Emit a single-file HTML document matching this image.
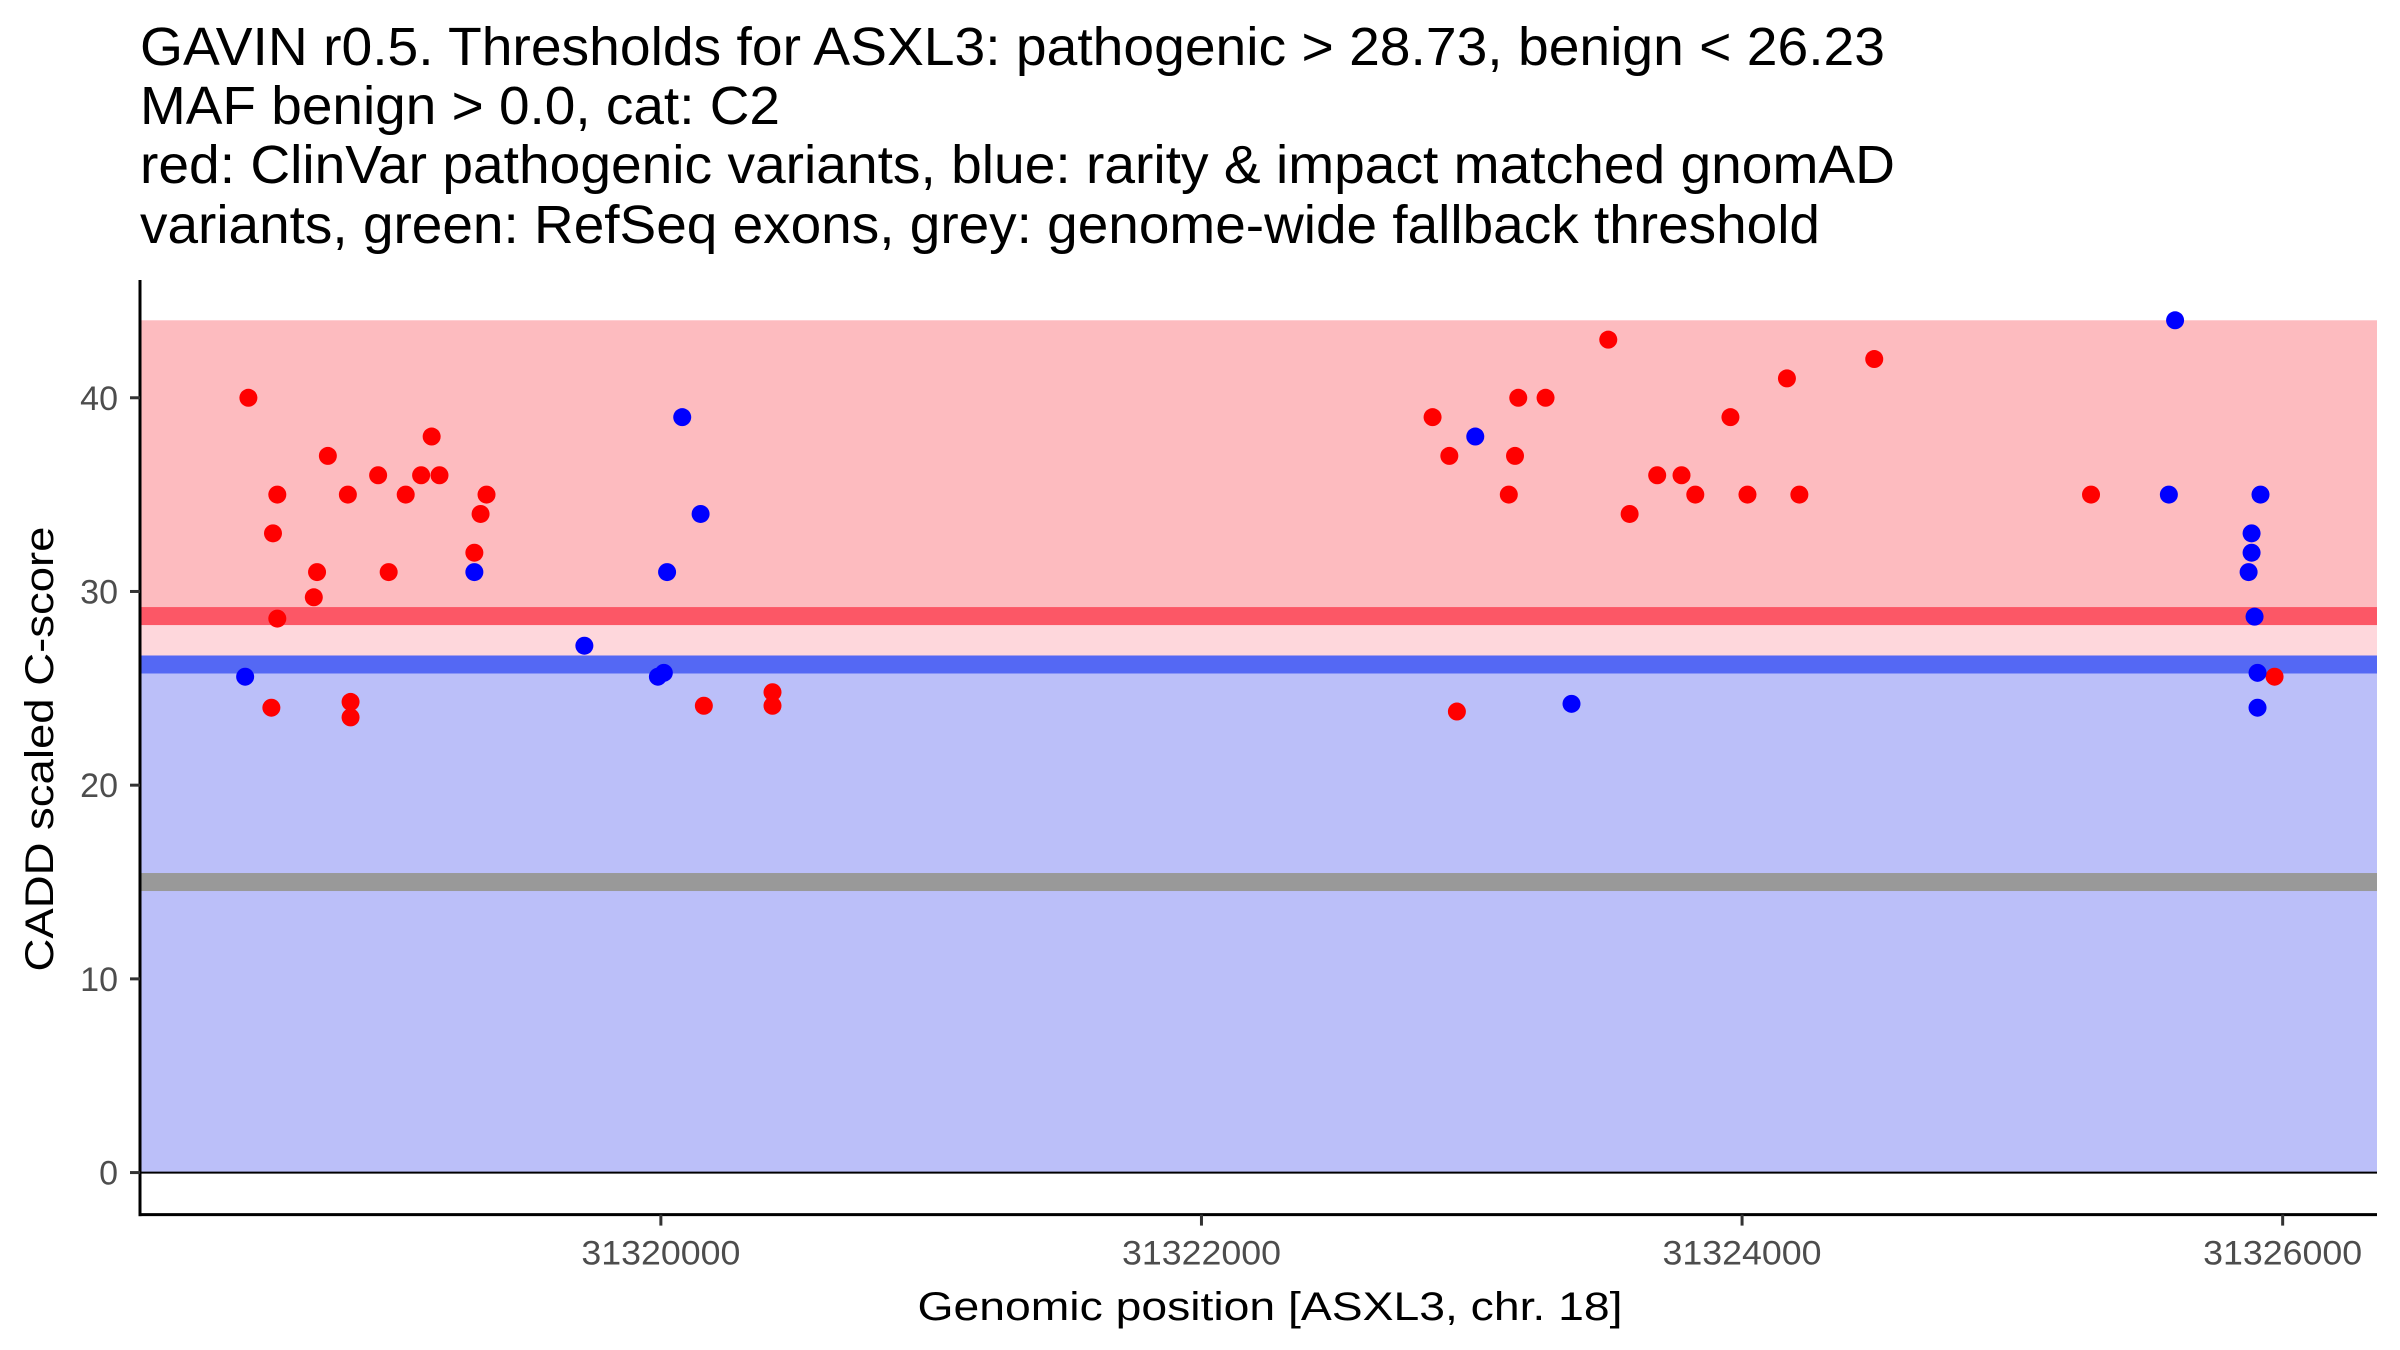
<!DOCTYPE html>
<html><head><meta charset="utf-8"><style>
html,body{margin:0;padding:0;background:#fff;}
svg{display:block;font-family:"Liberation Sans",Arial,sans-serif;}
</style></head><body>
<svg id="chart" width="2400" height="1350" viewBox="0 0 2400 1350" xmlns="http://www.w3.org/2000/svg">
<g font-size="54" fill="#000">
<text x="140" y="65" textLength="1745" lengthAdjust="spacingAndGlyphs">GAVIN r0.5. Thresholds for ASXL3: pathogenic &gt; 28.73, benign &lt; 26.23</text>
<text x="140" y="124" textLength="640" lengthAdjust="spacingAndGlyphs">MAF benign &gt; 0.0, cat: C2</text>
<text x="140" y="183" textLength="1755" lengthAdjust="spacingAndGlyphs">red: ClinVar pathogenic variants, blue: rarity &amp; impact matched gnomAD</text>
<text x="140" y="243" textLength="1680" lengthAdjust="spacingAndGlyphs">variants, green: RefSeq exons, grey: genome-wide fallback threshold</text>
</g>
<g id="bands"></g>
<g id="points"></g>
<g id="axes"></g>
<text transform="translate(53,749) rotate(-90)" text-anchor="middle" font-size="40" textLength="445" lengthAdjust="spacingAndGlyphs">CADD scaled C-score</text>
<text x="1270" y="1320" text-anchor="middle" font-size="40" textLength="705" lengthAdjust="spacingAndGlyphs">Genomic position [ASXL3, chr. 18]</text>
</svg>
<script>
const xTicks = [31320000, 31322000, 31324000, 31326000];
const yTicks = [0, 10, 20, 30, 40];
const pathoThreshold = 28.73;
const benignThreshold = 26.23;
const fallbackThreshold = 15;
const bandTop = 44;
const redX = [31318474,31318565,31318559,31318581,31318581,31318716,31318728,31318768,31318842,31318852,31318852,31318954,31318993,31319056,31319113,31319152,31319181,31319310,31319333,31319355,31320159,31320413,31320413,31322855,31322917,31322945,31323137,31323160,31323172,31323273,31323505,31323584,31323686,31323776,31323827,31323957,31324020,31324166,31324212,31324489,31325291,31325970];
const redY = [40,33,24,35,28.6,29.7,31,37,35,24.3,23.5,36,31,35,36,38,36,32,34,35,24.1,24.8,24.1,39,37,23.8,35,37,40,40,43,34,36,36,35,39,35,41,35,42,35,25.6];
const blueX = [31318462,31319310,31319717,31319989,31320011,31320023,31320079,31320147,31323013,31323369,31325579,31325602,31325874,31325885,31325885,31325896,31325907,31325907,31325918];
const blueY = [25.6,31,27.2,25.6,25.8,31,39,34,38,24.2,35,44,31,32,33,28.7,25.8,24,35];

const NS='http://www.w3.org/2000/svg';
const L=140,R=2377,T=280,B=1214.6;
const xMin=31318073,xMax=31326349,yMin=-2.17,yMax=46.08;
function sx(v){return L+(v-xMin)/(xMax-xMin)*(R-L);}
function sy(v){return B-(v-yMin)/(yMax-yMin)*(B-T);}
function mk(tag,attrs,parent){const e=document.createElementNS(NS,tag);for(const k in attrs)e.setAttribute(k,attrs[k]);parent.appendChild(e);return e;}
const bands=document.getElementById('bands'),pts=document.getElementById('points'),axes=document.getElementById('axes');
let e;
e=mk('rect',{x:L,y:sy(bandTop),width:R-L,height:sy(pathoThreshold)-sy(bandTop),fill:'#fdbbbf'},bands);


e=mk('rect',{x:L,y:sy(pathoThreshold),width:R-L,height:sy(benignThreshold)-sy(pathoThreshold),fill:'#fed7dc'},bands);


e=mk('rect',{x:L,y:sy(benignThreshold),width:R-L,height:sy(0)-sy(benignThreshold),fill:'#bbbff9'},bands);


e=mk('rect',{x:L,y:sy(pathoThreshold)-9,width:R-L,height:18,fill:'#fc5766'},bands);


e=mk('rect',{x:L,y:sy(benignThreshold)-9,width:R-L,height:18,fill:'#5468f4'},bands);


e=mk('rect',{x:L,y:sy(fallbackThreshold)-9,width:R-L,height:18,fill:'#999999'},bands);


e=mk('line',{x1:L,x2:R,y1:sy(0),y2:sy(0),stroke:'#000','stroke-width':2},bands);


for(let i=0;i<redX.length;i++){
  e=mk('circle',{cx:sx(redX[i]),cy:sy(redY[i]),r:9,fill:'#ff0000'},pts);
  
  
}
for(let i=0;i<blueX.length;i++){
  e=mk('circle',{cx:sx(blueX[i]),cy:sy(blueY[i]),r:9,fill:'#0000ff'},pts);
  
  
}
e=mk('line',{x1:L,x2:L,y1:T,y2:B+1.5,stroke:'#000','stroke-width':3},axes);


e=mk('line',{x1:L-1.5,x2:R,y1:B,y2:B,stroke:'#000','stroke-width':3},axes);


yTicks.forEach(v=>{
  e=mk('line',{x1:L-10,x2:L,y1:sy(v),y2:sy(v),stroke:'#333','stroke-width':3},axes);
  
  
  e=mk('text',{x:L-22,y:sy(v)+12,'text-anchor':'end','font-size':34,fill:'#4d4d4d'},axes);
  e.textContent=String(v);
  
  
});
xTicks.forEach(v=>{
  e=mk('line',{x1:sx(v),x2:sx(v),y1:B,y2:B+11,stroke:'#333','stroke-width':3},axes);
  
  
  e=mk('text',{x:sx(v),y:B+50,'text-anchor':'middle','font-size':34,fill:'#4d4d4d',textLength:159,lengthAdjust:'spacingAndGlyphs'},axes);
  e.textContent=String(v);
  
  
});
</script>
</body></html>
